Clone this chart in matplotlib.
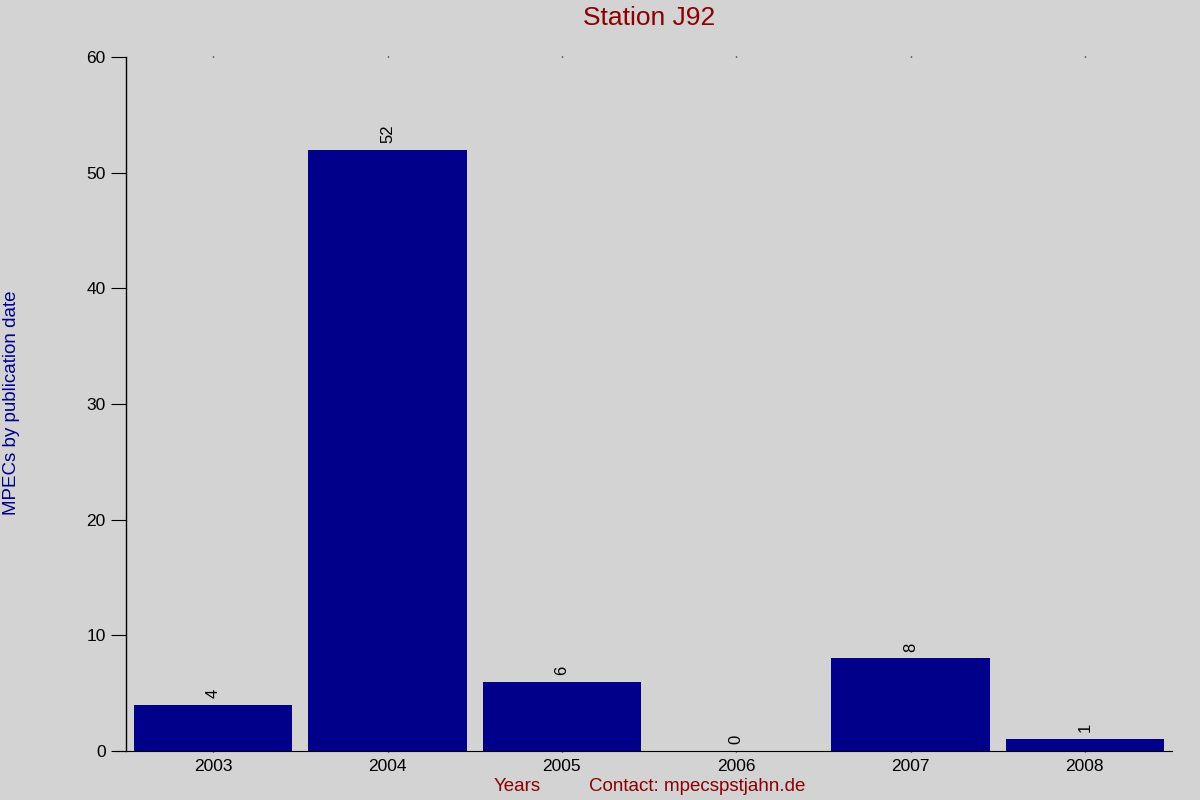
import matplotlib.pyplot as plt

plt.rcParams['font.family'] = ['Liberation Sans', 'DejaVu Sans']

years = ['2003', '2004', '2005', '2006', '2007', '2008']
counts = [4, 52, 6, 0, 8, 1]

fig = plt.figure(figsize=(12, 8), dpi=100, facecolor='#d3d3d3')
ax = fig.add_axes([0.105, 0.06125, 0.8717, 0.8675])
ax.set_facecolor('#d3d3d3')

x = list(range(len(years)))
ax.bar(x, counts, width=0.907, color='#00008b')
for xi, c in zip(x, counts):
    ax.text(xi, c + 0.6, str(c), rotation=90, ha='center', va='bottom', fontsize=12)

ax.set_xlim(-0.5, len(years) - 0.5)
ax.set_ylim(0, 60)
ax.set_yticks(range(0, 61, 10))
ax.set_xticks(x)
ax.set_xticklabels(years)
ax.tick_params(axis='y', length=11, labelsize=12.5, direction='out')
ax.tick_params(axis='x', length=0, labelsize=12.5, pad=5)
ax.tick_params(axis='x', top=True, length=1, width=1)

for s in ['top', 'right']:
    ax.spines[s].set_visible(False)
ax.spines['left'].set_linewidth(1)
ax.spines['bottom'].set_bounds(-0.563, len(years) - 0.5)

fig.text(0.541, 0.977, 'Station J92', ha='center', va='center', fontsize=19, color='#8b0000')
fig.text(0.01, 0.496, 'MPECs by publication date', rotation=90, ha='center', va='center',
         fontsize=13.5, color='#00008b')
fig.text(0.431, 0.017, 'Years', ha='center', va='center', fontsize=13.5, color='#8b0000')
fig.text(0.581, 0.017, 'Contact: mpecspstjahn.de', ha='center', va='center', fontsize=13.5,
         color='#8b0000')

fig.savefig('out.png', dpi=100, facecolor=fig.get_facecolor())
